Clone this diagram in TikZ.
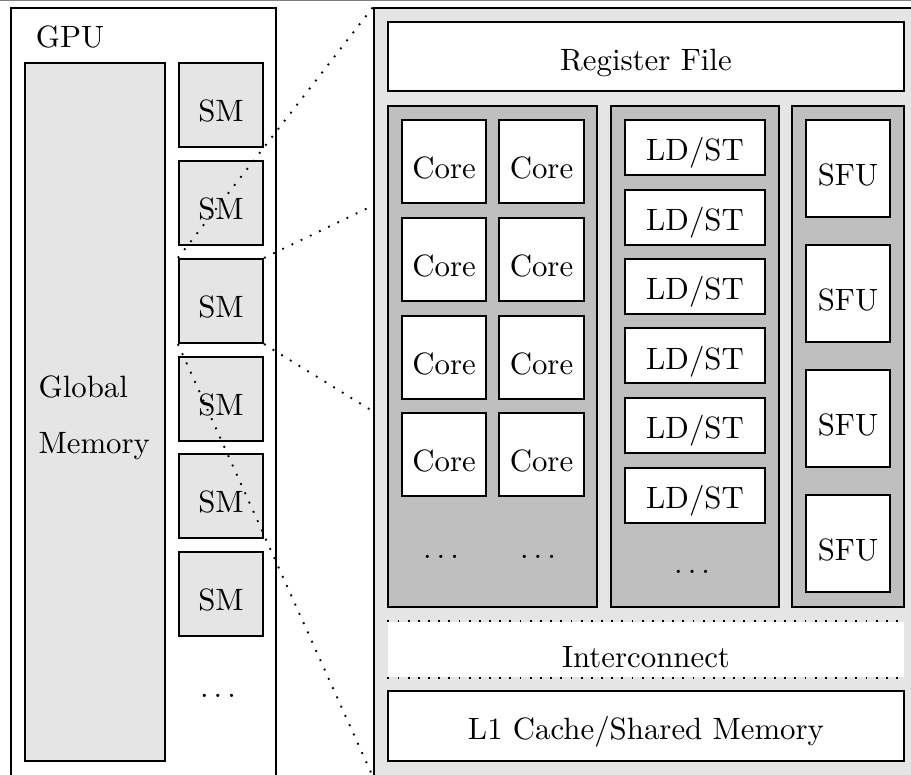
\documentclass[tikz,border=0pt]{standalone}
\usepackage{tikz}

\begin{document}
\begin{tikzpicture}[box/.style={draw, line width=0.65pt, inner sep=0pt, text height=1.1em},
  unit/.style={box, fill=white},
  lane/.style={box, fill=gray!50, minimum height=5.711cm},
  smbox/.style={box, fill=gray!20, minimum width=0.958cm, minimum height=0.958cm},
  core/.style={unit, minimum width=0.958cm, minimum height=0.946cm},
  ldst/.style={unit, minimum width=1.596cm, minimum height=0.627cm},
  sfu/.style={unit, minimum width=0.958cm, minimum height=1.106cm},
  zoomline/.style={line width=0.6pt, dash pattern=on 0.6pt off 2.7pt}]
\useasboundingbox (0,0) rectangle (10.385,-8.824);
\clip (0,0) rectangle (10.385,-8.824);
% GPU side
\node[box, minimum width=3.021cm, minimum height=8.915cm] (GPU) at (1.636,-4.549) {};
\node (GPUlbl) at (0.798,-0.416) {GPU};
\node[box, fill=gray!20, minimum width=1.596cm, minimum height=7.957cm] (GM) at (1.083,-4.697) {};
\node[anchor=west, align=left, inner sep=0pt] (GMlbl) at (0.433,-4.765) {Global\\[6pt]Memory};
\node[smbox] (SM1) at (2.519,-1.197) {SM};
\node[smbox] (SM2) at (2.519,-2.314) {SM};
\node[smbox] (SM3) at (2.519,-3.431) {SM};
\node[smbox] (SM4) at (2.519,-4.549) {SM};
\node[smbox] (SM5) at (2.519,-5.654) {SM};
\node[smbox] (SM6) at (2.519,-6.772) {SM};
\node (SMdots) at (2.485,-7.934) {$\dots$};
% SM detail
\node[box, fill=gray!20, minimum width=6.281cm, minimum height=8.755cm] (SMD) at (7.404,-4.469) {};
\coordinate (Z2) at (4.264,-2.337);
\coordinate (Z3) at (4.264,-4.697);
\draw[zoomline] (SM3.north west) -- (SMD.north west);
\draw[zoomline] (SM3.north east) -- (Z2);
\draw[zoomline] (SM3.south east) -- (Z3);
\draw[zoomline] (SM3.south west) -- (SMD.south west);
\node[unit, minimum width=5.882cm, minimum height=0.787cm] (RF) at (7.364,-0.644) {Register File};
\node[lane, minimum width=2.383cm] (CoreLane) at (5.615,-4.064) {};
\node[lane, minimum width=1.915cm] (LSLane) at (7.923,-4.064) {};
\node[lane, minimum width=1.277cm] (SFULane) at (9.667,-4.064) {};
\node[core] (C1) at (5.062,-1.841) {Core};
\node[core] (C2) at (6.173,-1.841) {Core};
\node[core] (C3) at (5.062,-2.958) {Core};
\node[core] (C4) at (6.173,-2.958) {Core};
\node[core] (C5) at (5.062,-4.076) {Core};
\node[core] (C6) at (6.173,-4.076) {Core};
\node[core] (C7) at (5.062,-5.181) {Core};
\node[core] (C8) at (6.173,-5.181) {Core};
\node (Cdots1) at (5.027,-6.350) {$\dots$};
\node (Cdots2) at (6.133,-6.350) {$\dots$};
\node[ldst] (LS1) at (7.923,-1.682) {LD/ST};
\node[ldst] (LS2) at (7.923,-2.474) {LD/ST};
\node[ldst] (LS3) at (7.923,-3.266) {LD/ST};
\node[ldst] (LS4) at (7.923,-4.058) {LD/ST};
\node[ldst] (LS5) at (7.923,-4.851) {LD/ST};
\node[ldst] (LS6) at (7.923,-5.643) {LD/ST};
\node (LSdots) at (7.890,-6.521) {$\dots$};
\node[sfu] (SF1) at (9.667,-1.921) {SFU};
\node[sfu] (SF2) at (9.667,-3.346) {SFU};
\node[sfu] (SF3) at (9.667,-4.771) {SFU};
\node[sfu] (SF4) at (9.667,-6.196) {SFU};
\node[fill=white, inner sep=0pt, minimum width=5.882cm, minimum height=0.627cm] (IC) at (7.364,-7.404) {};
\draw[zoomline] (IC.north west) -- (IC.north east);
\draw[zoomline] (IC.south west) -- (IC.south east);
\node (IClbl) at (7.364,-7.49) {Interconnect};
\node[unit, minimum width=5.882cm, minimum height=0.798cm] (L1) at (7.364,-8.276) {L1 Cache/Shared Memory};
\draw[gray, line width=0.4pt] (0,-0.004) -- (10.385,-0.004);
\end{tikzpicture}
\end{document}
